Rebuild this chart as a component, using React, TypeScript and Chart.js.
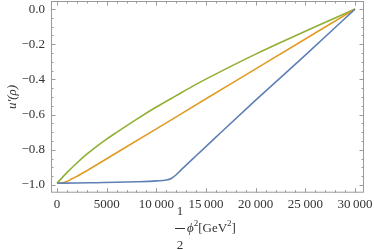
import React, { useEffect, useRef } from "react";
import { Chart, registerables } from "chart.js";

Chart.register(...registerables);

const blueX = [0, 2000, 4000, 6000, 8000, 10000, 11000, 11500, 12000, 12500, 13000, 14000, 16000, 20000, 25000, 30000];
const blueY = [-0.99, -0.989, -0.987, -0.985, -0.982, -0.977, -0.972, -0.963, -0.942, -0.914, -0.887, -0.834, -0.728, -0.518, -0.262, 0];

const orangeX = [0, 500, 1000, 1500, 2000, 3000, 5000, 10000, 15000, 20000, 25000, 30000];
const orangeY = [-0.99, -0.988, -0.98, -0.965, -0.951, -0.919, -0.851, -0.681, -0.51, -0.34, -0.17, 0];

const greenX = [0, 1000, 2000, 3000, 4000, 5000, 6000, 8000, 10000, 12000, 14000, 17000, 20000, 23000, 26000, 30000];
const greenY = [-0.99, -0.93, -0.875, -0.825, -0.78, -0.739, -0.701, -0.627, -0.557, -0.492, -0.428, -0.34, -0.256, -0.177, -0.1, 0];

const xMajorTicks = [0, 5000, 10000, 15000, 20000, 25000, 30000];
const yMajorTicks = [-1.0, -0.8, -0.6, -0.4, -0.2, 0.0];

const toPts = (xs: number[], ys: number[]) => xs.map((x, i) => ({ x, y: ys[i] }));

const SERIF = '"Liberation Serif", "Times New Roman", serif';

const framePlugin = {
  id: "frameTicks",
  afterDraw(chart: any) {
    const { ctx, chartArea: a, scales } = chart;
    const xs = scales.x;
    const ys = scales.y;
    ctx.save();
    ctx.strokeStyle = "#9a9a9a";
    ctx.lineWidth = 1;
    ctx.strokeRect(a.left + 0.5, a.top + 0.5, a.right - a.left - 1, a.bottom - a.top - 1);
    ctx.beginPath();
    for (let v = 0; v <= 30000; v += 1000) {
      const px = Math.round(xs.getPixelForValue(v)) + 0.5;
      const len = v % 5000 === 0 ? 4.5 : 2.5;
      ctx.moveTo(px, a.bottom);
      ctx.lineTo(px, a.bottom - len);
      ctx.moveTo(px, a.top);
      ctx.lineTo(px, a.top + len);
    }
    for (let k = -20; k <= 0; k++) {
      const v = k * 0.05;
      const py = Math.round(ys.getPixelForValue(v)) + 0.5;
      const len = k % 4 === 0 ? 4.5 : 2.5;
      ctx.moveTo(a.left, py);
      ctx.lineTo(a.left + len, py);
      ctx.moveTo(a.right, py);
      ctx.lineTo(a.right - len, py);
    }
    ctx.stroke();

    ctx.fillStyle = "#333";
    ctx.save();
    ctx.translate(13, 97);
    ctx.rotate(-Math.PI / 2);
    ctx.textAlign = "center";
    ctx.textBaseline = "middle";
    ctx.font = `italic 13px ${SERIF}`;
    ctx.fillText("u′(ρ)", 0, 0);
    ctx.restore();

    const cx = 180;
    ctx.textAlign = "center";
    ctx.textBaseline = "alphabetic";
    ctx.font = `13px ${SERIF}`;
    ctx.fillText("1", cx, 215);
    ctx.fillText("2", cx, 249);
    ctx.beginPath();
    ctx.strokeStyle = "#333";
    ctx.moveTo(cx - 5, 228.5);
    ctx.lineTo(cx + 5, 228.5);
    ctx.stroke();
    ctx.textAlign = "left";
    let x = 187;
    const base = 232;
    ctx.font = `italic 13px ${SERIF}`;
    ctx.fillText("ϕ", x, base);
    x += ctx.measureText("ϕ").width;
    ctx.font = `9px ${SERIF}`;
    ctx.fillText("2", x, base - 6);
    x += ctx.measureText("2").width;
    ctx.font = `13px ${SERIF}`;
    ctx.fillText("[GeV", x, base);
    x += ctx.measureText("[GeV").width;
    ctx.font = `9px ${SERIF}`;
    ctx.fillText("2", x, base - 6);
    x += ctx.measureText("2").width;
    ctx.font = `13px ${SERIF}`;
    ctx.fillText("]", x, base);
    ctx.restore();
  },
};

const zeroPad = (s: any) => {
  s.paddingTop = 0;
  s.paddingBottom = 0;
  s.paddingLeft = 0;
  s.paddingRight = 0;
};

export default function App() {
  const ref = useRef<HTMLCanvasElement>(null);
  useEffect(() => {
    if (!ref.current) return;
    const mk = (label: string, xs: number[], ys: number[], color: string) => ({
      label,
      data: toPts(xs, ys),
      borderColor: color,
      backgroundColor: color,
      borderWidth: 1.6,
      pointRadius: 0,
      showLine: true,
      fill: false,
      cubicInterpolationMode: "monotone" as const,
    });
    const chart = new Chart(ref.current, {
      type: "scatter",
      data: {
        datasets: [
          mk("blue", blueX, blueY, "#5E81B5"),
          mk("orange", orangeX, orangeY, "#E19C24"),
          mk("green", greenX, greenY, "#8FB032"),
        ],
      },
      options: {
        animation: false,
        responsive: false,
        events: [],
        layout: { padding: { top: 1, right: 10, left: 0, bottom: 0 } },
        plugins: { legend: { display: false }, tooltip: { enabled: false } },
        scales: {
          x: {
            type: "linear",
            min: -604,
            max: 30906,
            afterFit: (s: any) => {
              s.height = 57.3;
              zeroPad(s);
            },
            afterBuildTicks: (s: any) => {
              s.ticks = xMajorTicks.map((v) => ({ value: v }));
            },
            grid: { display: false, drawTicks: false },
            border: { display: false },
            ticks: {
              autoSkip: false,
              maxRotation: 0,
              padding: 4,
              color: "#333",
              font: { family: SERIF, size: 13 },
              callback: (v: any) => {
                const n = Number(v);
                return n >= 10000 ? String(Math.floor(n / 1000)) + "\u2009" + "000" : String(n);
              },
            },
          },
          y: {
            type: "linear",
            min: -1.044,
            max: 0.046,
            afterFit: (s: any) => {
              s.width = 51;
              zeroPad(s);
            },
            afterBuildTicks: (s: any) => {
              s.ticks = yMajorTicks.map((v) => ({ value: v }));
            },
            grid: { display: false, drawTicks: false },
            border: { display: false },
            ticks: {
              autoSkip: false,
              padding: 6,
              color: "#333",
              font: { family: SERIF, size: 13 },
              callback: (v: any) => {
                const n = Number(v);
                if (Math.abs(n) < 1e-9) return "0.0";
                return (n < 0 ? "\u2212" : "") + Math.abs(n).toFixed(1);
              },
            },
          },
        },
      },
      plugins: [framePlugin],
    });
    return () => chart.destroy();
  }, []);
  return (
    <div style={{ position: "fixed", left: 0, top: 0, width: 374, height: 250 }}>
      <canvas ref={ref} width={374} height={250} style={{ width: 374, height: 250, display: "block" }} />
    </div>
  );
}
